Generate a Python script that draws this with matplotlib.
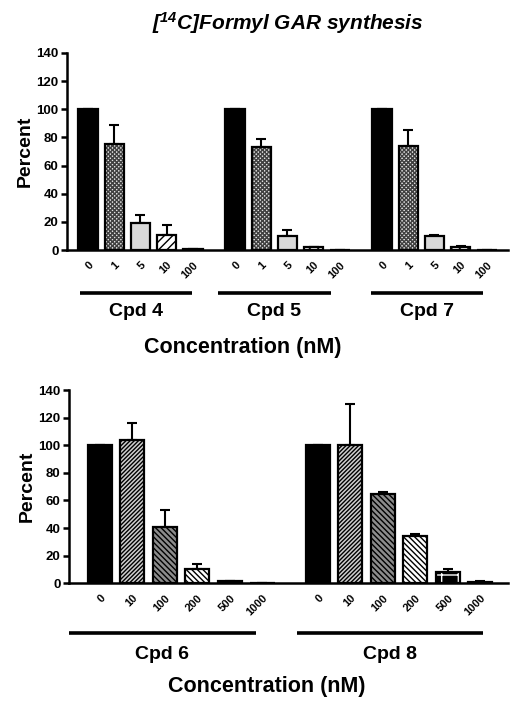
import numpy as np
import matplotlib
matplotlib.use('Agg')
import matplotlib.pyplot as plt
import matplotlib.transforms as mtransforms

plt.rcParams['font.family'] = ['Liberation Sans', 'DejaVu Sans']
plt.rcParams['font.weight'] = 'bold'
plt.rcParams['mathtext.fontset'] = 'custom'
plt.rcParams['mathtext.rm'] = 'Liberation Sans:italic:bold'
plt.rcParams['mathtext.it'] = 'Liberation Sans:italic:bold'
plt.rcParams['mathtext.default'] = 'rm'
plt.rcParams['hatch.linewidth'] = 1.0

# ---- data ----
top_conc = ['0', '1', '5', '10', '100']
top_cpds = ['Cpd 4', 'Cpd 5', 'Cpd 7']
cpd4 = [100, 75, 19, 11, 1]
cpd4_err = [0, 14, 6, 7, 0]
cpd5 = [100, 73, 10, 2, 0.3]
cpd5_err = [0, 6, 4, 0.5, 0]
cpd7 = [100, 74, 10, 2.5, 0.3]
cpd7_err = [0, 11, 1, 0.5, 0]

bot_conc = ['0', '10', '100', '200', '500', '1000']
bot_cpds = ['Cpd 6', 'Cpd 8']
cpd6 = [100, 104, 41, 10, 1.5, 0.3]
cpd6_err = [0, 12, 12, 4, 0, 0]
cpd8 = [100, 100, 65, 34, 8, 1]
cpd8_err = [0, 30, 1, 2, 2, 0.5]

# bar styles (face, hatch, hatch color)
top_styles = [('black', None, 'black'),
              ('#e0e0e0', 'xxxxxxxx', '#404040'),
              ('#d9d9d9', None, 'black'),
              ('white', '////', 'black'),
              ('black', None, 'black')]
bot_styles = [('black', None, 'black'),
              ('#cfcfcf', '////////', 'black'),
              ('#8c8c8c', '\\\\\\\\\\\\', 'black'),
              ('white', '\\\\\\\\\\\\', 'black'),
              ('black', '+', 'white'),
              ('black', None, 'black')]


def draw_panel(ax, groups, errs, conc, names, styles, gstep, width, xlim,
               line_span, ypos, conc_x):
    ticks, labels = [], []
    trans = mtransforms.blended_transform_factory(ax.transData, ax.transAxes)
    for g, (vals, ev) in enumerate(zip(groups, errs)):
        start = g * gstep
        x = start + np.arange(len(vals))
        for xi, v, (fc, hatch, hc) in zip(x, vals, styles):
            if hatch is not None:
                ax.bar(xi, v, width, color=fc, edgecolor=hc, hatch=hatch,
                       linewidth=0, zorder=2)
                ax.bar(xi, v, width, fill=False, edgecolor='black',
                       linewidth=1.6, zorder=3)
            else:
                ax.bar(xi, v, width, color=fc, edgecolor='black',
                       linewidth=1.6, zorder=3)
        ax.errorbar(x, vals, yerr=[np.zeros(len(ev)), ev], fmt='none',
                    ecolor='black', elinewidth=1.5, capsize=3.5, capthick=1.5,
                    zorder=1)
        ticks.extend(x)
        labels.extend(conc)
        ax.plot([start + line_span[g][0], start + line_span[g][1]],
                [ypos[0], ypos[0]], color='black', lw=2.6, transform=trans,
                clip_on=False, solid_capstyle='butt')
        mid = start + (line_span[g][0] + line_span[g][1]) / 2
        ax.text(mid, ypos[1], names[g], transform=trans, ha='center',
                va='center', fontsize=14, fontweight='bold')
    ax.set_xticks(ticks)
    ax.set_xticklabels(labels, rotation=45, ha='right', va='top',
                       rotation_mode='anchor', fontsize=8, fontweight='bold')
    ax.tick_params(axis='x', length=0, pad=7)
    ax.set_xlim(*xlim)
    ax.set_ylim(0, 140)
    ax.set_yticks(range(0, 141, 20))
    ax.tick_params(axis='y', length=4, width=1.8, labelsize=9.5, pad=2)
    for lab in ax.get_yticklabels():
        lab.set_fontweight('bold')
    for s in ['top', 'right']:
        ax.spines[s].set_visible(False)
    for s in ['left', 'bottom']:
        ax.spines[s].set_linewidth(1.8)
    ax.set_ylabel('Percent', fontsize=14, fontweight='bold', labelpad=2)
    ax.text(conc_x, ypos[2], 'Concentration (nM)', transform=ax.transAxes,
            ha='center', va='center', fontsize=15.5, fontweight='bold')


fig = plt.figure(figsize=(5.18, 7.15), dpi=100)
ax1 = fig.add_axes([0.1293, 0.6503, 0.8514, 0.2756])
ax2 = fig.add_axes([0.1332, 0.1842, 0.8475, 0.2703])

draw_panel(ax1, [cpd4, cpd5, cpd7], [cpd4_err, cpd5_err, cpd7_err],
           top_conc, top_cpds, top_styles, 5.6, 0.73, (-0.8, 16.0),
           [(-0.3, 3.97), (-0.65, 3.64), (-0.42, 3.85)],
           (-0.217, -0.313, -0.497), 0.399)
draw_panel(ax2, [cpd6, cpd8], [cpd6_err, cpd8_err],
           bot_conc, bot_cpds, bot_styles, 6.7, 0.74, (-0.95, 12.55),
           [(-0.95, 4.8), (-0.63, 5.09)],
           (-0.256, -0.371, -0.536), 0.451)

fig.text(0.556, 0.968, r'[$^{14}$C]Formyl GAR synthesis', ha='center',
         va='center', fontsize=15, fontweight='bold', fontstyle='italic')

fig.savefig('out.png', dpi=100)
